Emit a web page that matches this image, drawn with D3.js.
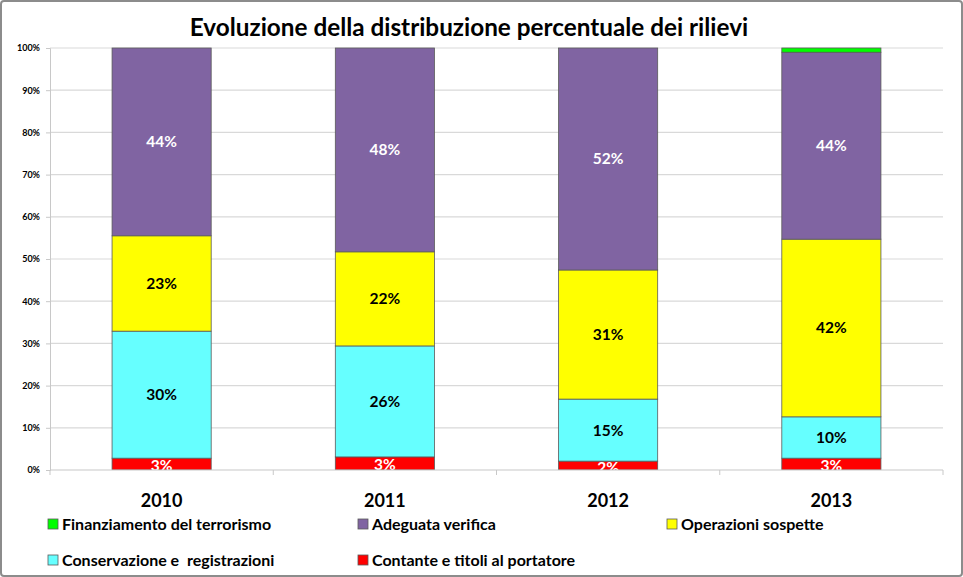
<!DOCTYPE html>
<html><head><meta charset="utf-8">
<script src="https://cdn.jsdelivr.net/npm/d3@7"></script>
<style>body{margin:0;background:#fff}svg{display:block}text{font-family:Lato,"Open Sans",sans-serif;font-weight:bold;white-space:pre}</style>
</head><body><svg id="c" width="963" height="577"></svg>
<script>
const categories = ["2010","2011","2012","2013"];
const seriesNames = ["Contante e titoli al portatore","Conservazione e  registrazioni","Operazioni sospette","Adeguata verifica","Finanziamento del terrorismo"];
const contante = [2.8, 3.1, 2.1, 2.8];
const conservazione = [30.1, 26.3, 14.7, 9.8];
const operazioni = [22.6, 22.3, 30.6, 42.1];
const adeguata = [44.5, 48.3, 52.6, 44.3];
const finanziamento = [0, 0, 0, 1.0];
const labelsText = [["3%","3%","2%","3%"],["30%","26%","15%","10%"],["23%","22%","31%","42%"],["44%","48%","52%","44%"],["","","",""]];
const yTicks = [0,10,20,30,40,50,60,70,80,90,100];
const colors = ["#FF0000","#66FFFF","#FFFF00","#8064A2","#00FF00"];
const labelColors = ["#fff","#000","#000","#fff",""];
const title = "Evoluzione della distribuzione percentuale dei rilievi";

const svg = d3.select("#c");
svg.append("rect").attr("x",1).attr("y",1).attr("width",961).attr("height",575).attr("rx",3)
  .attr("fill","#fff").attr("stroke","#8c8c8c").attr("stroke-width",2);

const L=50,R=943,T=48,B=470;
const x = d3.scaleBand().domain(categories).range([L,R]).paddingInner(0.556).paddingOuter(0.278);
const y = d3.scaleLinear().domain([0,100]).range([B,T]);

svg.append("text").attr("x",469).attr("y",36).attr("text-anchor","middle").attr("font-size",24.3).attr("fill","#000").text(title);

// gridlines
svg.append("g").selectAll("line").data(yTicks.filter(d=>d>0)).join("line")
  .attr("x1",L).attr("x2",R).attr("y1",d=>y(d)).attr("y2",d=>y(d)).attr("stroke","#d9d9d9").attr("stroke-width",1.2);

const yAxis = d3.axisLeft(y).tickValues(yTicks).tickFormat(d=>d+"%").tickSize(4).tickPadding(6);
const ga = svg.append("g").attr("transform",`translate(${L},0)`).call(yAxis);
ga.select(".domain").attr("stroke","#c8c8c8");
ga.selectAll(".tick line").attr("stroke","#c8c8c8");
ga.selectAll("text").attr("font-size",9).attr("font-family","Lato, sans-serif").attr("font-weight","bold").attr("fill","#000");

const data = [contante,conservazione,operazioni,adeguata,finanziamento];
const stackData = categories.map((c,i)=>{const o={cat:c}; seriesNames.forEach((s,j)=>o[s]=data[j][i]); return o;});
const stacked = d3.stack().keys(seriesNames)(stackData);

svg.append("defs").append("clipPath").attr("id","pc").append("rect").attr("x",L).attr("y",T-5).attr("width",R-L).attr("height",B-T+5);
const gb = svg.append("g").attr("clip-path","url(#pc)");
stacked.forEach((layer,j)=>{
  gb.append("g").selectAll("rect").data(layer).join("rect")
    .attr("x",d=>x(d.data.cat)).attr("width",x.bandwidth())
    .attr("y",d=>y(d[1])).attr("height",d=>y(d[0])-y(d[1]))
    .attr("fill",colors[j]).attr("stroke",d=>(d[1]-d[0])>0?"#5a5a5a":"none").attr("stroke-width",0.8);
});
stacked.forEach((layer,j)=>{
  if(!labelColors[j]) return;
  gb.append("g").selectAll("text").data(layer).join("text")
    .attr("x",d=>x(d.data.cat)+x.bandwidth()/2)
    .attr("y",(d)=>(y(d[0])+y(d[1]))/2 + (j===0?7:5.5))
    .attr("text-anchor","middle").attr("font-size",15.5).attr("fill",labelColors[j])
    .text((d,i)=>labelsText[j][i]);
});

// x axis
svg.append("line").attr("x1",L).attr("x2",R).attr("y1",B).attr("y2",B).attr("stroke","#c8c8c8").attr("stroke-width",1.2);
const bounds = [L, ...categories.map(c=>x(c)+x.bandwidth()/2+x.step()/2)];
svg.append("g").selectAll("line").data(bounds).join("line")
  .attr("x1",d=>d).attr("x2",d=>d).attr("y1",B).attr("y2",B+5).attr("stroke","#c8c8c8");
svg.append("g").selectAll("text").data(categories).join("text")
  .attr("x",d=>x(d)+x.bandwidth()/2).attr("y",507).attr("text-anchor","middle").attr("font-size",18).attr("fill","#000").text(d=>d);

// legend
const legendItems = [
  {i:4,x:48,y:524},{i:3,x:358,y:524},{i:2,x:667,y:524},
  {i:1,x:48,y:560},{i:0,x:358,y:560}];
const lg = svg.append("g");
legendItems.forEach(it=>{
  lg.append("rect").attr("x",it.x).attr("y",it.y-5).attr("width",10).attr("height",10).attr("fill",colors[it.i]).attr("stroke","#5a5a5a").attr("stroke-width",0.8);
  lg.append("text").attr("x",it.x+14).attr("y",it.y+6).attr("font-size",16).attr("fill","#000").text(seriesNames[it.i]);
});
</script></body></html>
